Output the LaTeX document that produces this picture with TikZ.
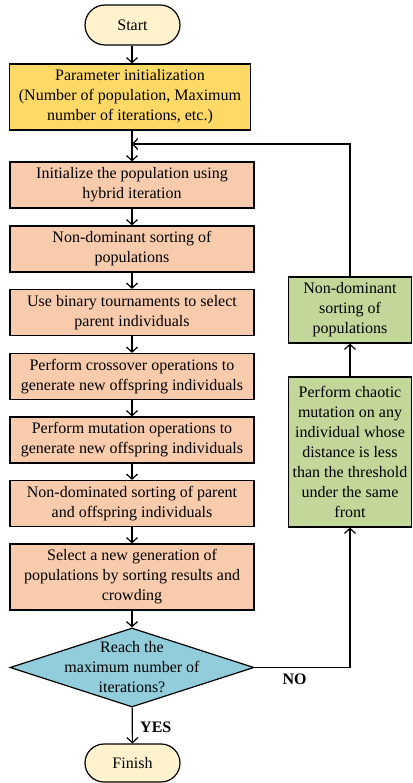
\documentclass[tikz,border=0pt]{standalone}
\usepackage{fontspec}
\setmainfont{Liberation Serif}
\usetikzlibrary{arrows.meta,shapes.geometric,shapes.misc}
\definecolor{cstart}{HTML}{FFF2CC}
\definecolor{cparam}{HTML}{FFD966}
\definecolor{corange}{HTML}{F8CBAD}
\definecolor{cdec}{HTML}{92CDDC}
\definecolor{cgreen}{HTML}{C4D79B}
\tikzset{
  x=1pt,y=1pt,
  every node/.style={font=\fontsize{16}{20}\selectfont, align=center, line width=1.2pt},
  term/.style={draw, fill=cstart, rounded rectangle, minimum width=95pt, minimum height=40pt, inner sep=0pt},
  procbox/.style={draw, fill=corange, rectangle, minimum width=244pt, minimum height=46pt, inner sep=0pt},
  greenbox/.style={draw, fill=cgreen, rectangle, minimum width=123pt, inner sep=0pt},
  dec/.style={draw, fill=cdec, diamond, minimum width=244pt, minimum height=79pt, inner sep=0pt},
  conn/.style={line width=1.2pt, -{Straight Barb[length=5pt,width=11pt,line width=1.2pt]}},
  lbl/.style={font=\fontsize{16}{18}\selectfont\bfseries}
}
\begin{document}
\begin{tikzpicture}
\useasboundingbox (0,0) rectangle (412,-783);
\node[term] (start) at (132.5,-25) {Start};
\node[draw, fill=cparam, minimum width=241pt, minimum height=66pt, inner sep=0pt] (param) at (130,-97)
  {Parameter initialization\\(Number of population, Maximum\\number of iterations, etc.)};
\node[procbox] (b1) at (132,-185) {Initialize the population using\\hybrid iteration};
\node[procbox] (b2) at (132,-249) {Non-dominant sorting of\\populations};
\node[procbox] (b3) at (132,-312.5) {Use binary tournaments to select\\parent individuals};
\node[procbox] (b4) at (132,-376.5) {Perform crossover operations to\\generate new offspring individuals};
\node[procbox] (b5) at (132,-440) {Perform mutation operations to\\generate new offspring individuals};
\node[procbox] (b6) at (132,-503.5) {Non-dominated sorting of parent\\and offspring individuals};
\node[procbox, minimum height=66pt] (b7) at (132,-577) {Select a new generation of\\populations by sorting results and\\crowding};
\node[dec] (dec) at (132,-667.5) {};
\node (dect) at (dec.center) {Reach the\\maximum number of\\iterations?};
\node[term, minimum height=38pt] (finish) at (132.5,-763) {Finish};
\node[greenbox, minimum height=66pt] (g1) at (350,-310) {Non-dominant\\sorting of\\populations};
\node[greenbox, minimum height=150pt] (g2) at (350,-452) {Perform chaotic\\mutation on any\\individual whose\\distance is less\\than the threshold\\under the same\\front};
\coordinate (join) at (132,-144);
\draw[conn] (start.south -| b1.north) -- (b1.north |- param.north);
\draw[conn] (b1.north |- param.south) -- (b1.north);
\draw[conn] (b1) -- (b2);
\draw[conn] (b2) -- (b3);
\draw[conn] (b3) -- (b4);
\draw[conn] (b4) -- (b5);
\draw[conn] (b5) -- (b6);
\draw[conn] (b6) -- (b7);
\draw[conn] (b7) -- (dec);
\draw[conn] (dec) -- node[lbl, right, xshift=4pt, yshift=-2pt] (yes) {YES} (finish);
\draw[conn] (dec.east) -- node[lbl, below, pos=0.42, yshift=-2pt] (no) {NO} (dec.east -| g2.south) -- (g2.south);
\draw[conn] (g2) -- (g1);
\draw[conn] (g1.north) |- (join);
\end{tikzpicture}
\end{document}
